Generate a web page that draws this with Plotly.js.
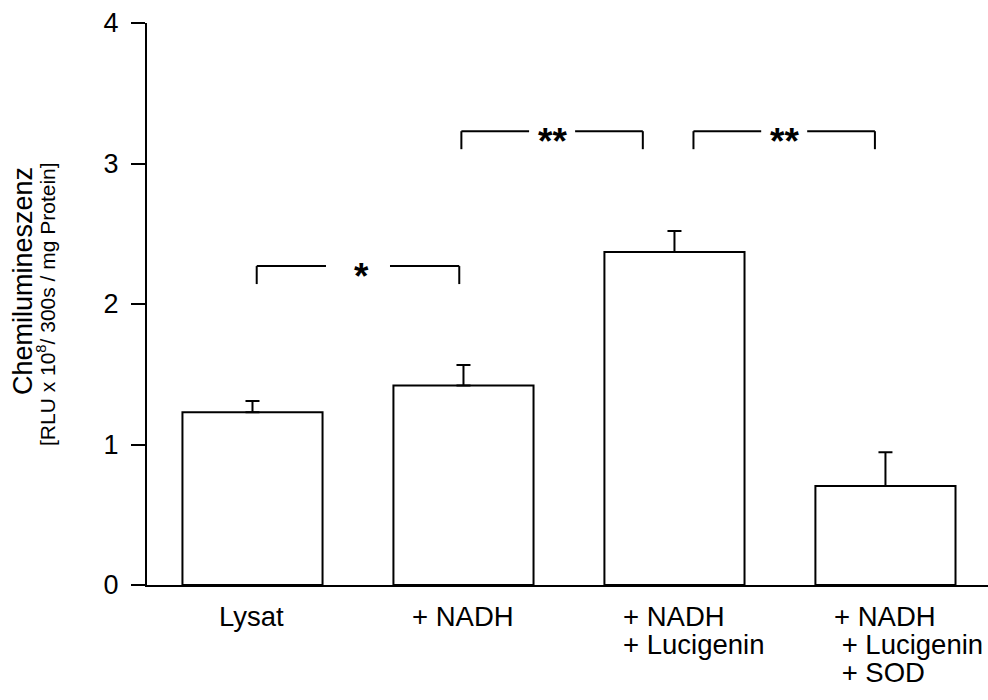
<!DOCTYPE html>
<html>
<head>
<meta charset="utf-8">
<script src="https://cdn.plot.ly/plotly-3.0.1.min.js"></script>
<style>html,body{margin:0;padding:0;background:#fff;}#chart{width:988px;height:700px;}</style>
</head>
<body>
<div id="chart"></div>
<script>
// ---- data ----
var categories = ["Lysat", "+ NADH", "+ NADH<br>+ Lucigenin", "+ NADH<br> + Lucigenin<br> + SOD"];
var values = [1.23, 1.42, 2.37, 0.705];
var errors = [0.08, 0.146, 0.15, 0.24];
var yTickValues = [0, 1, 2, 3, 4];
var yTickLabels = ["0", "1", "2", "3", "4"];
var bracketStart = [0.02, 0.99, 2.09];
var bracketEnd = [0.98, 1.85, 2.95];
var bracketLevel = [2.27, 3.23, 3.23];
var bracketLabel = ["*", "**", "**"];
var yTitle = "Chemilumineszenz";
var ySubtitle = "[RLU x 10<sup>8</sup>/ 300s / mg Protein]";

// ---- layout constants ----
var W = 988, H = 700;
var M = {l: 147, r: 0, t: 23, b: 115};
var xRange = [-0.5, 3.486];
var yRange = [0, 4];
var plotW = W - M.l - M.r, plotH = H - M.t - M.b;
var pxPerX = plotW / (xRange[1] - xRange[0]);
var pxPerY = plotH / (yRange[1] - yRange[0]);
var FONT = "Liberation Sans, Arial, sans-serif";
var labelSize = 27.5;
var gapPx = [32, 23, 23];
var legPx = 18;

var idx = categories.map(function(_, i){ return i; });
var zeros = values.map(function(){ return 0; });

var trace = {
  type: "bar",
  x: idx,
  y: values,
  width: 0.664,
  marker: {color: "#ffffff", line: {color: "#000000", width: 2}},
  error_y: {type: "data", array: errors, arrayminus: zeros, symmetric: false,
            visible: true, color: "#000000", thickness: 2, width: 7},
  hoverinfo: "skip"
};

var shapes = [];
var annotations = [];
for (var b = 0; b < bracketStart.length; b++) {
  var x0 = bracketStart[b], x1 = bracketEnd[b], yl = bracketLevel[b];
  var mid = (x0 + x1) / 2;
  var g = gapPx[b] / pxPerX;
  var leg = legPx / pxPerY;
  var ln = {color: "#000000", width: 2};
  shapes.push({type: "line", xref: "x", yref: "y", x0: x0, x1: x0, y0: yl - leg, y1: yl, line: ln});
  shapes.push({type: "line", xref: "x", yref: "y", x0: x0, x1: mid - g, y0: yl, y1: yl, line: ln});
  shapes.push({type: "line", xref: "x", yref: "y", x0: mid + g, x1: x1, y0: yl, y1: yl, line: ln});
  shapes.push({type: "line", xref: "x", yref: "y", x0: x1, x1: x1, y0: yl - leg, y1: yl, line: ln});
  annotations.push({x: mid, y: yl, xref: "x", yref: "y", text: "<b>" + bracketLabel[b] + "</b>",
    showarrow: false, xanchor: "center", yanchor: "middle", yshift: -10,
    xshift: bracketLabel[b].length === 1 ? 4 : 0,
    font: {family: FONT, size: 37, color: "#000000"}});
}

// category labels: left-aligned block, first line centred on the bar
var ctx = document.createElement("canvas").getContext("2d");
ctx.font = labelSize + "px 'Liberation Sans'";
for (var i = 0; i < categories.length; i++) {
  var lines = categories[i].split("<br>");
  var w0 = ctx.measureText(lines[0]).width;
  for (var k = 0; k < lines.length; k++) {
    annotations.push({x: i, y: 0, xref: "x", yref: "paper",
      text: lines[k].replace(/^ /, "\u00a0"), showarrow: false,
      xanchor: "left", yanchor: "middle", xshift: -w0 / 2 - 3, yshift: -31 - 28 * k,
      font: {family: FONT, size: labelSize, color: "#000000"}});
  }
}

// y-axis titles
annotations.push({x: 0, y: (H - M.b - 281) / plotH, xref: "paper", yref: "paper",
  text: yTitle, textangle: -90, showarrow: false, xanchor: "center", yanchor: "middle", xshift: -124,
  font: {family: FONT, size: 27, color: "#000000"}});
annotations.push({x: 0, y: (H - M.b - 304) / plotH, xref: "paper", yref: "paper",
  text: ySubtitle, textangle: -90, showarrow: false, xanchor: "center", yanchor: "middle", xshift: -101,
  font: {family: FONT, size: 21, color: "#000000"}});

var layout = {
  width: W, height: H,
  margin: M,
  paper_bgcolor: "#ffffff", plot_bgcolor: "#ffffff",
  showlegend: false,
  font: {family: FONT, color: "#000000"},
  xaxis: {range: xRange, showline: true, linecolor: "#000000", linewidth: 2,
          showgrid: false, zeroline: false, showticklabels: false, ticks: "", fixedrange: true},
  yaxis: {range: yRange, showline: true, linecolor: "#000000", linewidth: 2,
          showgrid: false, zeroline: false, ticks: "outside", ticklen: 14, tickwidth: 2,
          tickcolor: "#000000", tickvals: yTickValues, ticktext: yTickLabels,
          ticklabelstandoff: 7, tickfont: {family: FONT, size: 27, color: "#000000"}, fixedrange: true},
  shapes: shapes,
  annotations: annotations
};

Plotly.newPlot("chart", [trace], layout, {displayModeBar: false, staticPlot: true});
</script>
</body>
</html>
